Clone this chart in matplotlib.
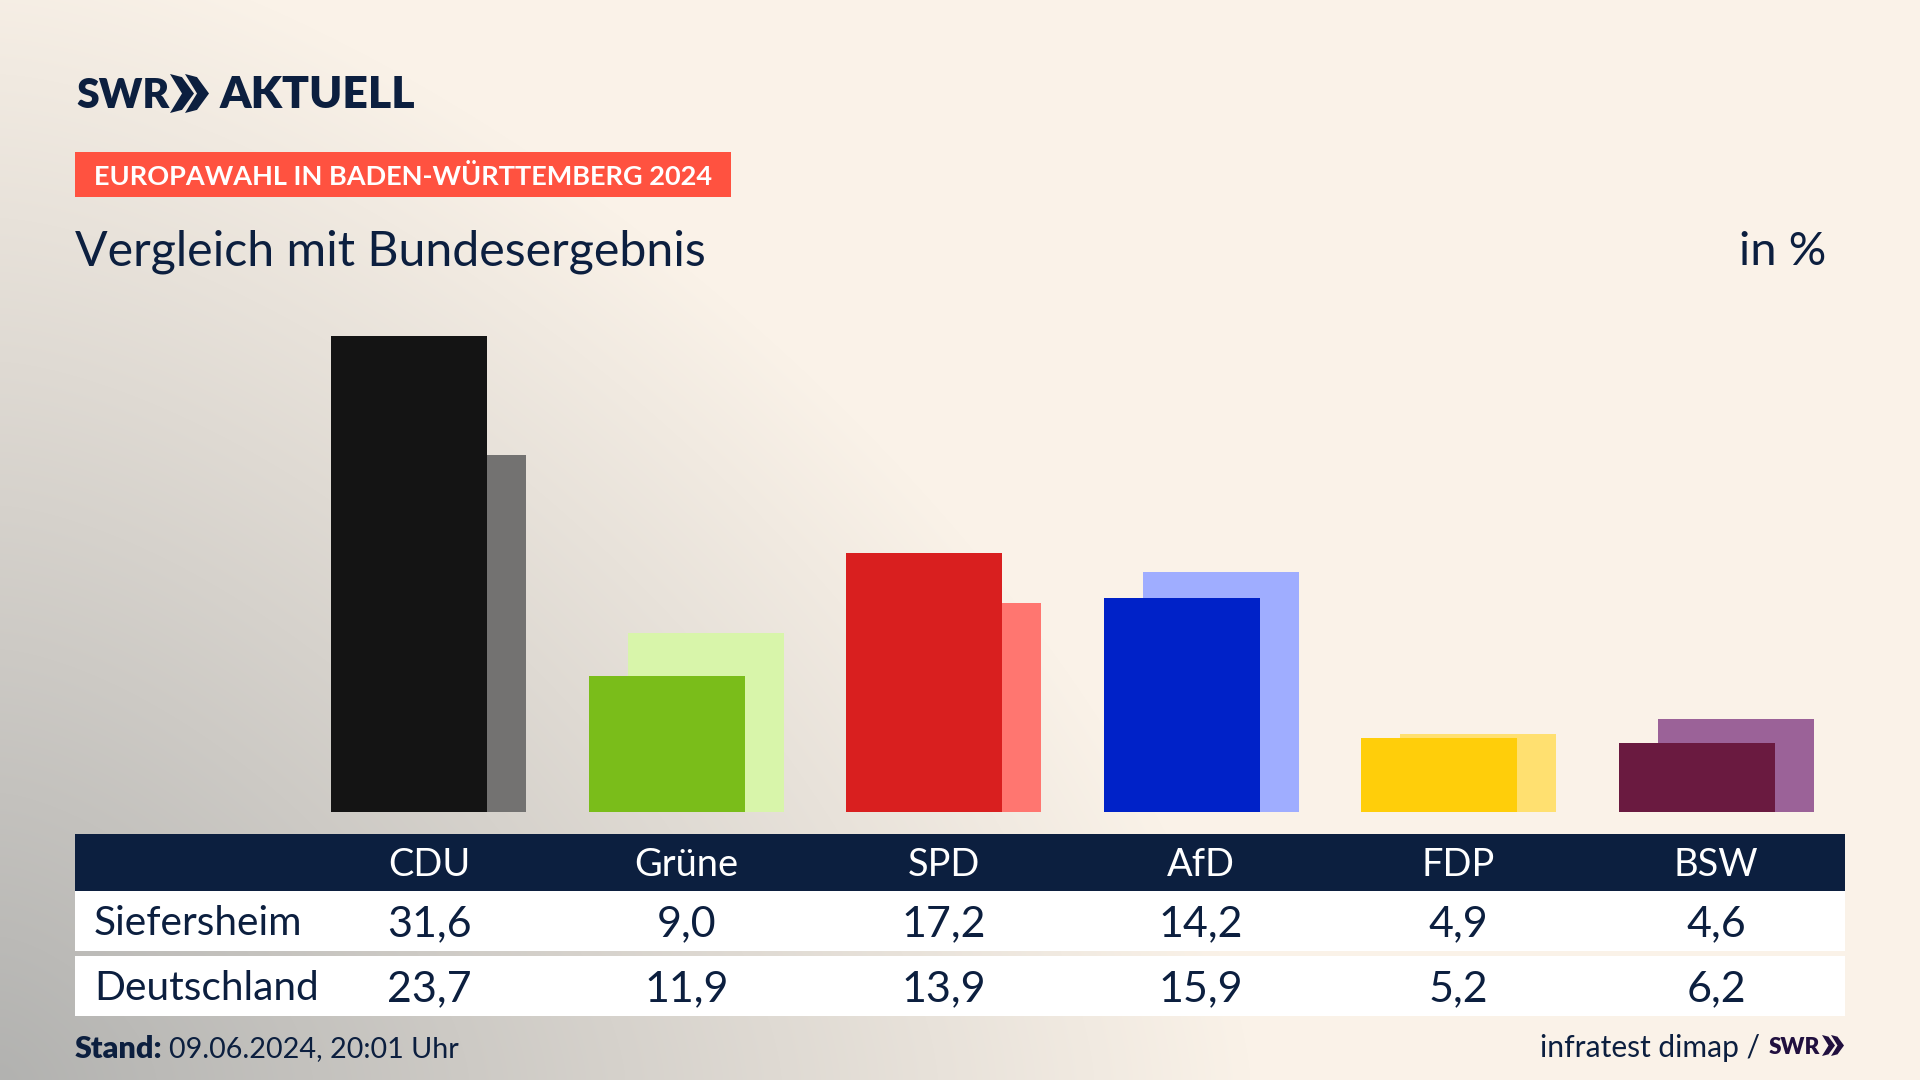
import numpy as np
import matplotlib
matplotlib.use("Agg")
import matplotlib.pyplot as plt
from matplotlib.patches import Rectangle, Polygon

parties = ["CDU", "Grüne", "SPD", "AfD", "FDP", "BSW"]
siefersheim = [31.6, 9.0, 17.2, 14.2, 4.9, 4.6]
deutschland = [23.7, 11.9, 13.9, 15.9, 5.2, 6.2]
front_colors = ["#141414", "#7ABD1A", "#D91F1F", "#0022C8", "#FFCE0A", "#6A1A40"]
back_colors = ["#737271", "#D8F5AA", "#FF7670", "#9FADFF", "#FFE070", "#9B6298"]
row_names = ["Siefersheim", "Deutschland"]

NAVY = "#0C1F3F"
FONT = "Lato"
W, H = 1920, 1080
fig = plt.figure(figsize=(W / 100, H / 100), dpi=100)

def fx(x): return x / W
def fy(y): return 1 - y / H

def txt(x, y, s, px, color=NAVY, ha="left", weight="normal"):
    return fig.text(fx(x), fy(y), s, fontsize=px * 0.72, color=color, ha=ha, va="center_baseline",
                    family=FONT, fontweight=weight)

def rect(x0, y0, x1, y1, color):
    fig.patches.append(Rectangle((fx(x0), fy(y1)), fx(x1 - x0), (y1 - y0) / H, transform=fig.transFigure,
                                 facecolor=color, edgecolor="none"))

def chevrons(x, y0, y1, w, gap, color):
    m = (y0 + y1) / 2
    for k in range(2):
        xs = x + k * gap
        pts = [(xs, y0), (xs + w * 0.5, y0 + (y1 - y0) * 0.08), (xs + w, m), (xs + w * 0.5, y1 - (y1 - y0) * 0.08),
               (xs, y1), (xs + w * 0.5, m)]
        fig.patches.append(Polygon([(fx(a), fy(b)) for a, b in pts], closed=True, transform=fig.transFigure,
                                   facecolor=color, edgecolor="none"))

# background
bg = fig.add_axes([0, 0, 1, 1], zorder=-5)
yy, xx = np.mgrid[0:H, 0:W]
t = np.clip(((xx / 1250.0) ** 1.5 + ((H - yy) / 1150.0) ** 1.5) ** (1 / 1.5), 0, 1)
low = np.array([178, 178, 176]) / 255
high = np.array([250, 242, 232]) / 255
bg.imshow(low[None, None, :] * (1 - t[..., None]) + high[None, None, :] * t[..., None], aspect="auto")
bg.axis("off")

# bars
pitch = 257.6
ax = fig.add_axes([0, 1 - 812 / H, 1, (812 - 336) / H], zorder=1)
ax.patch.set_alpha(0)
ax.set_xlim(-409 / pitch, (W - 409) / pitch)
ax.set_ylim(0, 31.6)
ax.axis("off")
pos = np.arange(len(parties))
ax.bar(pos + 39 / pitch, deutschland, width=156 / pitch, color=back_colors, linewidth=0, zorder=1)
ax.bar(pos, siefersheim, width=156 / pitch, color=front_colors, linewidth=0, zorder=2)

# header
txt(76, 92, "SWR", 41, weight="heavy")
chevrons(170, 74, 113, 24, 15, NAVY)
txt(220, 92, "AKTUELL", 44.5, weight="heavy")
rect(75, 152, 731, 197, "#FF5240")
txt(94, 175, "EUROPAWAHL IN BADEN-WÜRTTEMBERG 2024", 27.1, color="white", weight="bold")
txt(75, 247.5, "Vergleich mit Bundesergebnis", 48.3)
txt(1826, 248, "in %", 47, ha="right")

# table
rect(75, 834, 1845, 891, NAVY)
rect(75, 891, 1845, 951, "white")
rect(75, 956, 1845, 1016, "white")
for name, y in zip(row_names, (920, 985)):
    txt(94, y, name, 40.6)
for i, p in enumerate(parties):
    cx = 429 + i * 257.4
    txt(cx, 862, p, 38, color="white", ha="center")
    txt(cx, 921, f"{siefersheim[i]:.1f}".replace(".", ","), 43, ha="center")
    txt(cx, 986, f"{deutschland[i]:.1f}".replace(".", ","), 43, ha="center")

# footer
txt(75, 1047, "Stand:", 30.5, weight="heavy")
txt(169, 1047, "09.06.2024, 20:01 Uhr", 28.7)
txt(1760, 1046, "infratest dimap /", 30, ha="right")
txt(1794, 1046, "SWR", 22.5, color="#21103F", ha="center", weight="heavy")
chevrons(1822, 1035, 1056, 13, 9, "#21103F")

fig.savefig("out.png", dpi=100)
